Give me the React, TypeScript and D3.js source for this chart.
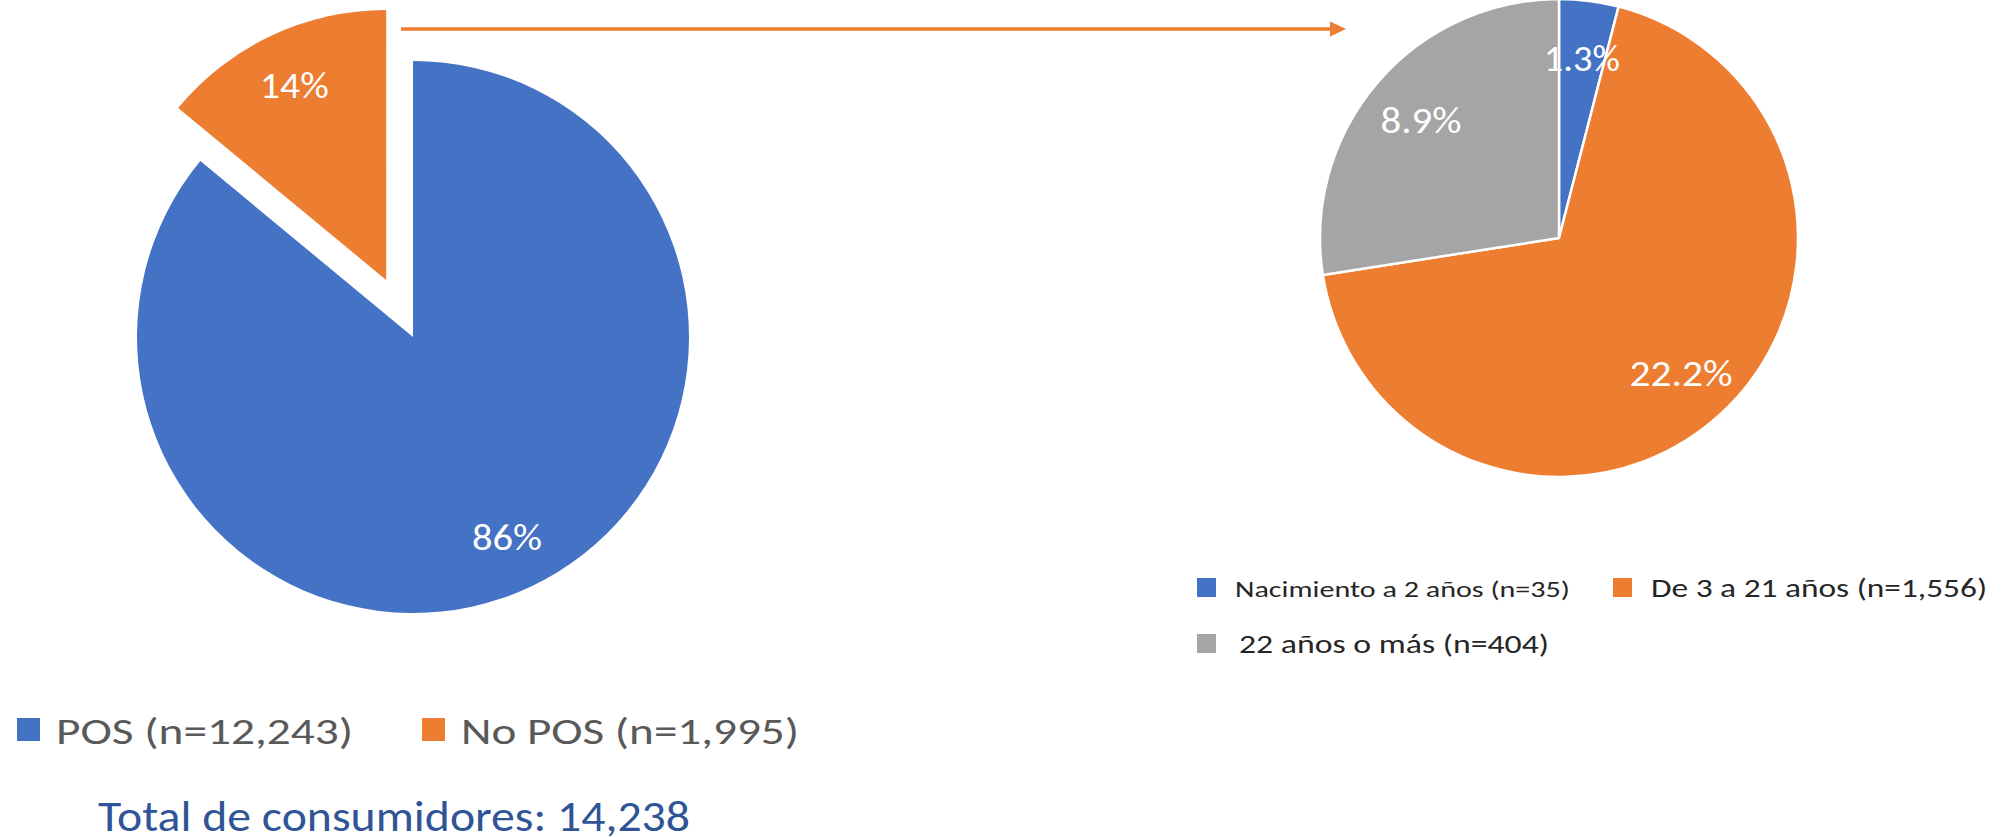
import React from "react";
import * as d3 from "d3";

// ---- data ----
const leftCategories = ["POS (n=12,243)", "No POS (n=1,995)"];
const leftValues = [86, 14];
const leftLabels = ["86%", "14%"];
const rightCategories = ["Nacimiento a 2 años (n=35)", "De 3 a 21 años (n=1,556)", "22 años o más (n=404)"];
const rightValues = [1.3, 22.2, 8.9];
const rightLabels = ["1.3%", "22.2%", "8.9%"];
const totalText = "Total de consumidores: 14,238";

// ---- styles / layout ----
const W = 2005;
const H = 837;
const FONT = "Carlito, Calibri, Lato, 'Open Sans', sans-serif";
const leftColors = ["#4472C4", "#ED7D31"];
const rightColors = ["#4472C4", "#ED7D31", "#A5A5A5"];

const L = { cx: 413, cy: 337, r: 276, rExploded: 270, explode: 63, labelK: 0.8 };
const R = { cx: 1559, cy: 238, r: 239, labelK: 0.76 };

const leftLabelWidths = [70, 69];
const rightLabelWidths = [76, 103, 81];
const leftLegendWidths = [297, 338];
const rightLegendWidths = [335, 336, 310];
const rightLegendFont = [23, 26.5, 26.5];

export default function App() {
  const pie = d3
    .pie<number>()
    .sort(null)
    .value((d) => d)
    .startAngle(0)
    .endAngle(2 * Math.PI);

  const leftArcs = pie(leftValues);
  const rightArcs = pie(rightValues);

  const arcL = d3.arc<d3.PieArcDatum<number>>().innerRadius(0);
  const arcR = d3.arc<d3.PieArcDatum<number>>().innerRadius(0).outerRadius(R.r);
  const labelArcR = d3
    .arc<d3.PieArcDatum<number>>()
    .innerRadius(R.r * R.labelK)
    .outerRadius(R.r * R.labelK);

  // left legend layout
  let lx = 17;
  const leftLegend = leftCategories.map((c, i) => {
    const item = { c, x: lx, color: leftColors[i], w: leftLegendWidths[i] };
    lx += 23 + 16 + leftLegendWidths[i] + 69;
    return item;
  });

  // right legend layout (two per row)
  const rightLegend = rightCategories.map((c, i) => {
    const row = Math.floor(i / 2);
    const col = i % 2;
    const x = col === 0 ? 1197 : 1197 + 19 + 19 + rightLegendWidths[0] + 43;
    const y = 578 + row * 56;
    return { c, x, y, color: rightColors[i], w: rightLegendWidths[i], fs: rightLegendFont[i], dx: i === 2 ? 23 : 19 };
  });

  return (
    <svg
      width={W}
      height={H}
      style={{ position: "absolute", left: 0, top: 0, display: "block", background: "#fff" }}
      fontFamily={FONT}
    >
      {/* arrow */}
      <line x1={401} y1={29} x2={1332} y2={29} stroke="#ED7D31" strokeWidth={3.5} />
      <path d="M1330,21.5 L1346,29 L1330,36.5 Z" fill="#ED7D31" />

      {/* left pie */}
      {leftArcs.map((a, i) => {
        const exploded = i === 1;
        const mid = (a.startAngle + a.endAngle) / 2;
        const off = exploded ? L.explode : 0;
        const tx = L.cx + off * Math.sin(mid);
        const ty = L.cy - off * Math.cos(mid);
        const r = exploded ? L.rExploded : L.r;
        const path = arcL.outerRadius(r)(a) as string;
        const lr = r * L.labelK;
        const lxp = lr * Math.sin(mid);
        const lyp = -lr * Math.cos(mid);
        return (
          <g key={i} transform={`translate(${tx},${ty})`}>
            <path d={path} fill={leftColors[i]} />
            <text
              x={lxp}
              y={lyp + 13}
              fill="#fff"
              fontSize={36}
              textAnchor="middle"
              textLength={leftLabelWidths[i]}
              lengthAdjust="spacingAndGlyphs"
            >
              {leftLabels[i]}
            </text>
          </g>
        );
      })}

      {/* right pie */}
      <g transform={`translate(${R.cx},${R.cy})`}>
        {rightArcs.map((a, i) => (
          <path key={i} d={arcR(a) as string} fill={rightColors[i]} stroke="#fff" strokeWidth={2.5} strokeLinejoin="round" />
        ))}
        {rightArcs.map((a, i) => {
          const [x, y] = labelArcR.centroid(a);
          return (
            <text
              key={"t" + i}
              x={x}
              y={y + 13}
              fill="#fff"
              fontSize={36}
              textAnchor="middle"
              textLength={rightLabelWidths[i]}
              lengthAdjust="spacingAndGlyphs"
            >
              {rightLabels[i]}
            </text>
          );
        })}
      </g>

      {/* left legend */}
      {leftLegend.map((it, i) => (
        <g key={i}>
          <rect x={it.x} y={718} width={23} height={23} fill={it.color} />
          <text
            x={it.x + 39}
            y={744}
            fill="#595959"
            fontSize={37}
            textLength={it.w}
            lengthAdjust="spacingAndGlyphs"
          >
            {it.c}
          </text>
        </g>
      ))}

      <text x={98} y={831} fill="#2F5597" fontSize={43} textLength={592} lengthAdjust="spacingAndGlyphs">
        {totalText}
      </text>

      {/* right legend */}
      {rightLegend.map((it, i) => (
        <g key={i}>
          <rect x={it.x} y={it.y} width={19} height={19} fill={it.color} />
          <text
            x={it.x + it.dx + 19}
            y={it.y + 19}
            fill="#262626"
            fontSize={it.fs}
            textLength={it.w}
            lengthAdjust="spacingAndGlyphs"
          >
            {it.c}
          </text>
        </g>
      ))}
    </svg>
  );
}
